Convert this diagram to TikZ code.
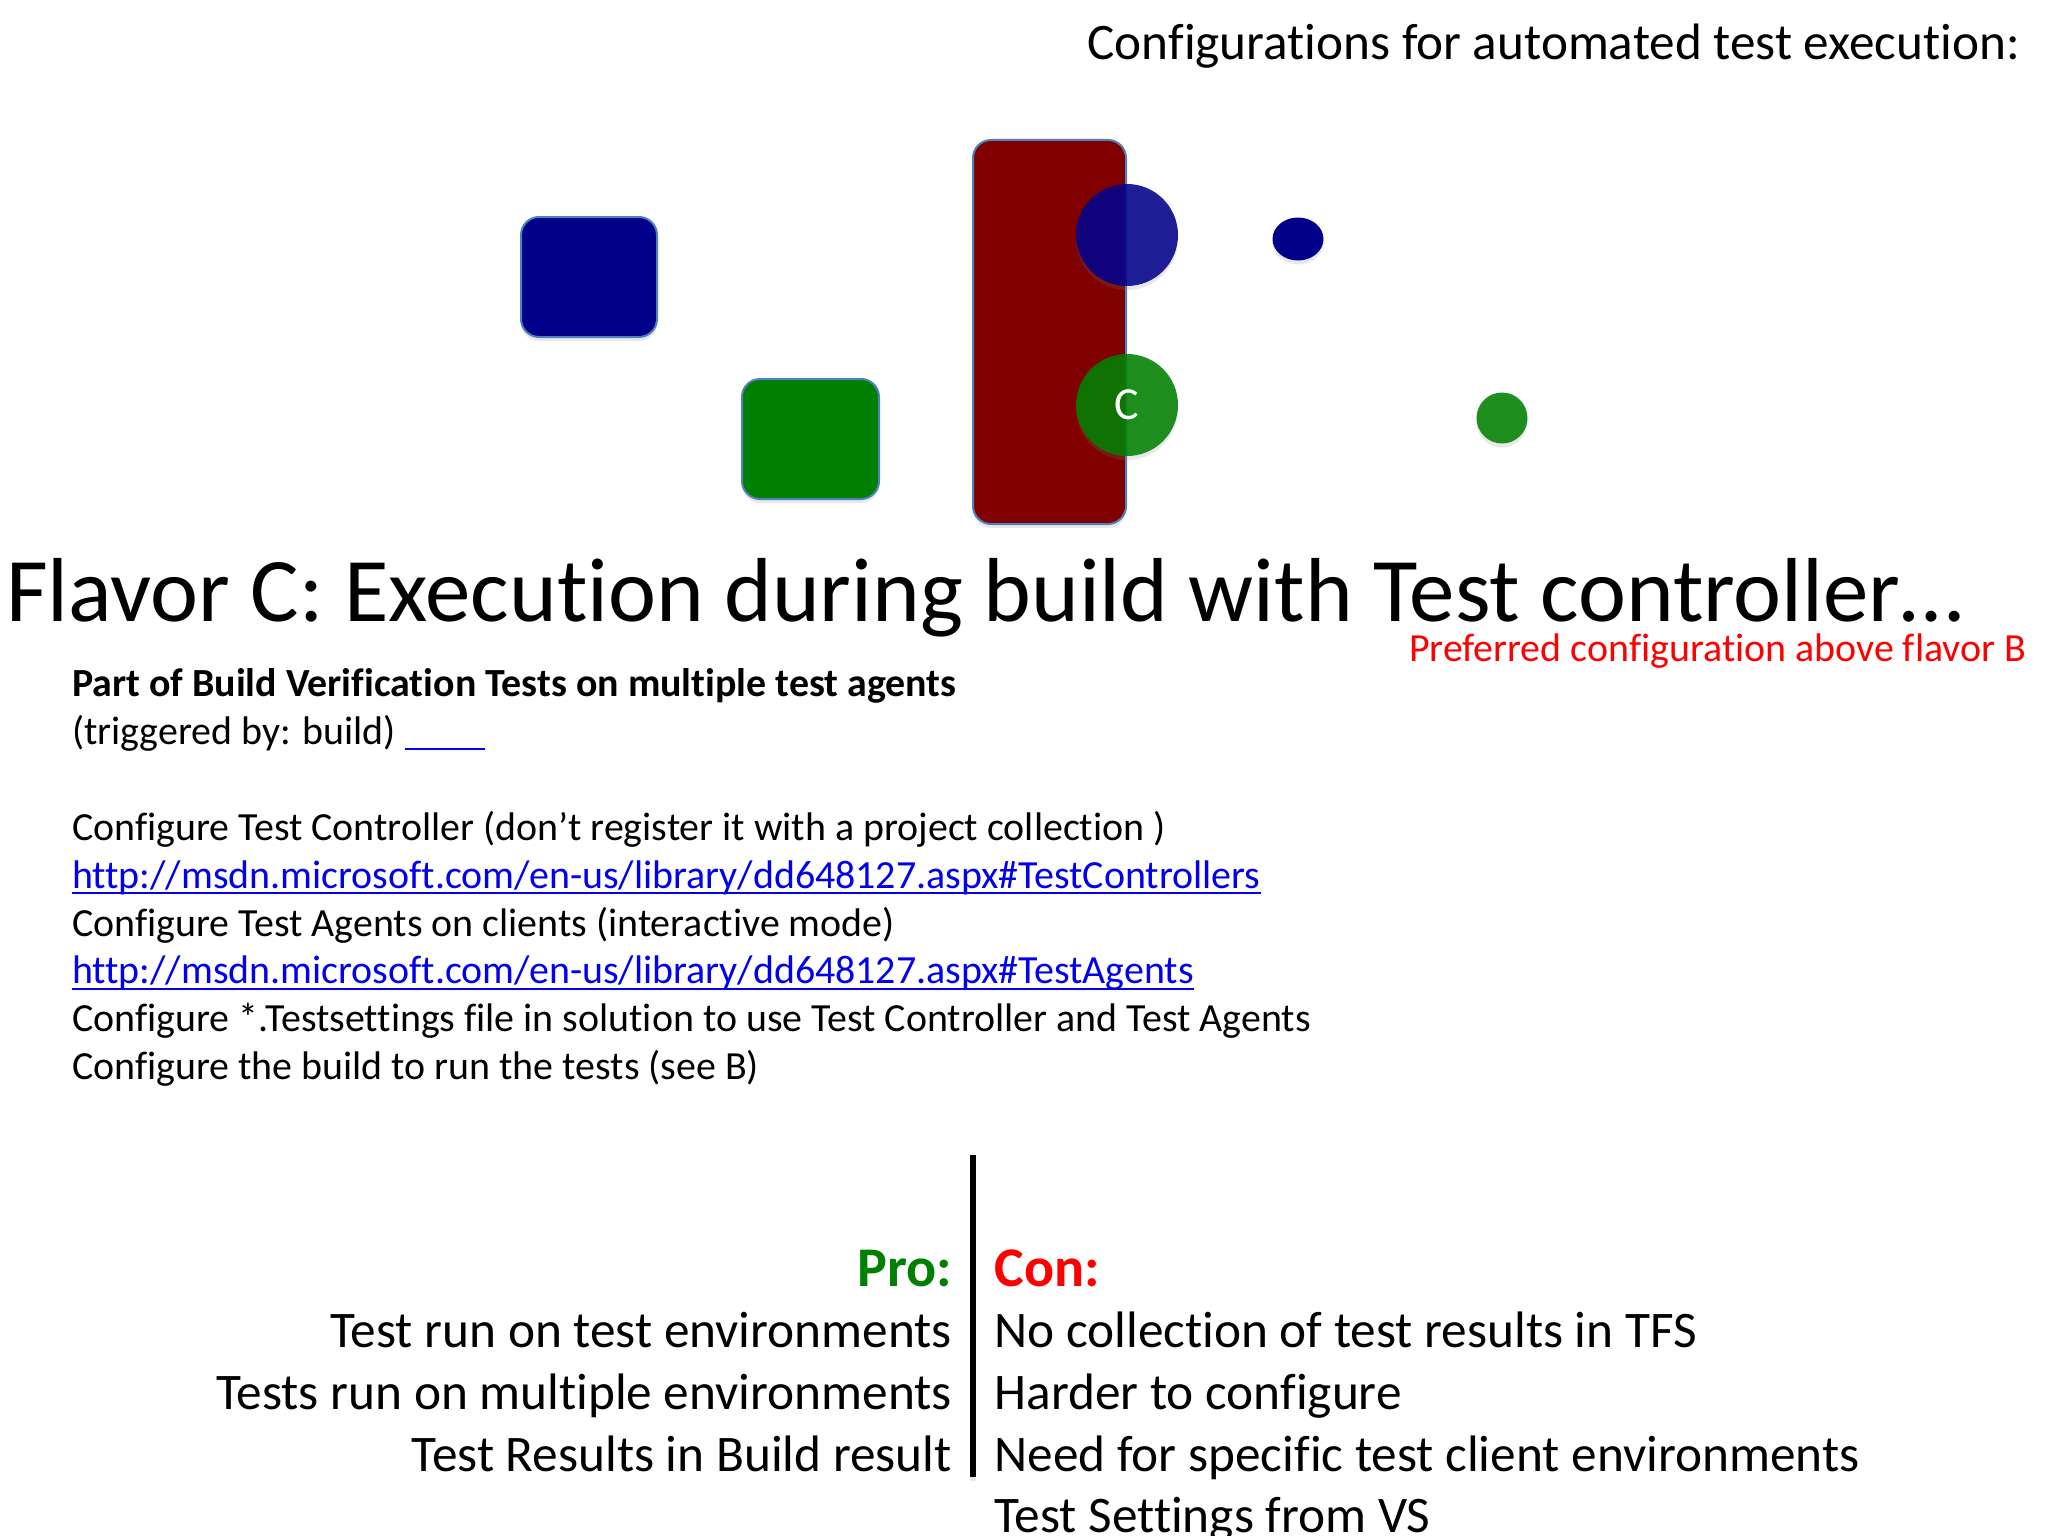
\documentclass[tikz,border=0pt]{standalone}
\usepackage{fontspec}
\setmainfont{Carlito}[Ligatures=NoCommon]
\usetikzlibrary{shadows,shapes.geometric}
\definecolor{linkblue}{RGB}{0,0,238}
\definecolor{edgeblue}{RGB}{79,129,189}
\newcommand{\lnk}[1]{\setbox0\hbox{#1}\rlap{\rule[-6pt]{\wd0}{2.4pt}}\box0}
\newcommand{\fsize}[1]{\fontsize{#1}{#1}\selectfont}

\begin{document}
\begin{tikzpicture}[x=1pt,y=-1pt,every node/.style={inner sep=0pt,outer sep=0pt}]
      \tikzstyle{softshadow}=[drop shadow={shadow xshift=0pt,shadow yshift=-4pt,opacity=0.18}]
      \tikzstyle{machine}=[draw=edgeblue,line width=2pt,rounded corners=18pt,softshadow]
      \tikzstyle{badge}=[circle,minimum size=102pt,fill opacity=0.875,text opacity=1,softshadow]
      \tikzstyle{bodyline}=[anchor=north west,text height=36pt,text depth=11.9pt,font=\fsize{39.9}]
      \tikzstyle{proline}=[anchor=north east,text height=46pt,text depth=15.7pt,font=\fsize{51.3}]
      \tikzstyle{conline}=[anchor=north west,text height=46pt,text depth=15.7pt,font=\fsize{51.3}]
      \useasboundingbox (0,0) rectangle (2048,1536);

      \node (header) at (2020,60) [anchor=base east,font=\fsize{51.2}] {Configurations for automated test execution:};

      \node (client) at (589,277) [machine,fill={rgb,255:red,0;green,0;blue,139},minimum width=136pt,minimum height=120pt] {};
      \node (agent) at (810.5,439) [machine,fill={rgb,255:red,0;green,128;blue,0},minimum width=137pt,minimum height=120pt] {};
      \node (server) at (1049.5,332) [machine,fill={rgb,255:red,128;green,0;blue,0},minimum width=153pt,minimum height=384pt] {};
      \node (bluebadge) at (1127,235) [badge,fill={rgb,255:red,0;green,0;blue,139}] {};
      \node (greenbadge) at (1127,405) [badge,fill={rgb,255:red,0;green,128;blue,0},text=white,font=\fsize{46}] {C};
      \node (bluedot) at (1298,239) [ellipse,minimum width=51pt,minimum height=43pt,fill={rgb,255:red,0;green,0;blue,139},softshadow] {};
      \node (greendot) at (1502,418) [circle,minimum size=51pt,fill={rgb,255:red,0;green,128;blue,0},fill opacity=0.875,softshadow] {};

      \node (title) at (6,621) [anchor=base west,font=\fsize{90.9}] {Flavor C: Execution during build with Test controller…};
      \node (preferred) at (2026,661) [anchor=base east,text=red,font=\fsize{39.9}] {Preferred configuration above flavor B};

      \node (part) at (72,660.5) [bodyline,font=\fsize{39.9}\bfseries] {Part of Build Verification Tests on multiple test agents};
      \node (trigger) at (part.south west) [bodyline] {(triggered by: build) \textcolor{linkblue}{\lnk{\hspace*{80pt}}}};
      \node (controller) at (trigger.south west) [bodyline,yshift=-47.9pt] {Configure Test Controller (don’t register it with a project collection )};
      \node (controllerurl) at (controller.south west) [bodyline,text=linkblue] {\lnk{http://msdn.microsoft.com/en-us/library/dd648127.aspx\#TestControllers}};
      \node (agents) at (controllerurl.south west) [bodyline] {Configure Test Agents on clients (interactive mode)};
      \node (agentsurl) at (agents.south west) [bodyline,text=linkblue] {\lnk{http://msdn.microsoft.com/en-us/library/dd648127.aspx\#TestAgents}};
      \node (settings) at (agentsurl.south west) [bodyline] {Configure *.Testsettings file in solution to use Test Controller and Test Agents};
      \node (buildrun) at (settings.south west) [bodyline] {Configure the build to run the tests (see B)};

      \node (divider) at (973,1316) [fill=black,minimum width=6pt,minimum height=322pt,softshadow] {};

      \node (pro) at (952,1240) [proline,text={rgb,255:red,0;green,128;blue,0},font=\fsize{56}\bfseries] {Pro:};
      \node (pro1) at (pro.south east) [proline] {Test run on test environments};
      \node (pro2) at (pro1.south east) [proline] {Tests run on multiple environments};
      \node (pro3) at (pro2.south east) [proline] {Test Results in Build result};

      \node (con) at (994.5,1240) [conline,text=red,font=\fsize{56}\bfseries] {Con:};
      \node (con1) at (con.south west) [conline] {No collection of test results in TFS};
      \node (con2) at (con1.south west) [conline] {Harder to configure};
      \node (con3) at (con2.south west) [conline] {Need for specific test client environments};
      \node (con4) at (con3.south west) [conline,text depth=0pt] {Test Settings from VS};
    \end{tikzpicture}
\end{document}
